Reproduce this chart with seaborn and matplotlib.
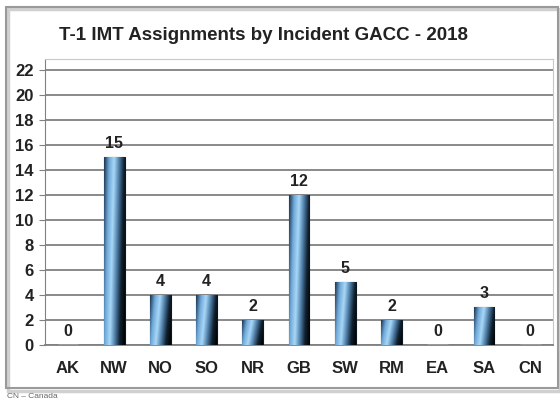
import numpy as np
import pandas as pd
import matplotlib
matplotlib.use("Agg")
import matplotlib.pyplot as plt
import seaborn as sns
from matplotlib.patches import Rectangle
from matplotlib.colors import LinearSegmentedColormap

# ---------- Data ----------
regions = ["AK", "NW", "NO", "SO", "NR", "GB", "SW", "RM", "EA", "SA", "CN"]
assignments = [0, 15, 4, 4, 2, 12, 5, 2, 0, 3, 0]
y_ticks = list(range(0, 23, 2))

df = pd.DataFrame({"region": regions, "count": assignments})

# ---------- Plot ----------
sns.set_style("white")
plt.rcParams["font.family"] = ["Liberation Sans", "DejaVu Sans"]

fig = plt.figure(figsize=(5.6, 4.0), dpi=100)
ax = fig.add_axes([0.08, 0.138, 0.908, 0.715])

sns.barplot(data=df, x="region", y="count", color="#3a6a90", width=0.45,
            ax=ax, zorder=3)

ax.set_yticks(y_ticks)
ax.yaxis.grid(True, color="#808080", linewidth=1.3, zorder=0)
ax.set_axisbelow(True)

# shaded bar fill: dark edges, light blue diagonal highlight
cmap = LinearSegmentedColormap.from_list(
    "bar", ["#1c3550", "#6fa8d8", "#a8d8f8", "#4f7ea8", "#10202e", "#000000"])
xx, yy = np.meshgrid(np.linspace(0, 1, 60), np.linspace(0, 1, 60))
grad = np.clip(xx * 0.82 + (1 - yy) * 0.18, 0, 1)
for patch in ax.patches:
    x0, y0 = patch.get_x(), patch.get_y()
    w, h = patch.get_width(), patch.get_height()
    if h <= 0:
        continue
    im = ax.imshow(grad, cmap=cmap, aspect="auto", origin="lower",
                   extent=[x0, x0 + w, y0, y0 + h], zorder=3.5)
    im.set_clip_path(patch)
    patch.set_edgecolor("#0a1620")
    patch.set_linewidth(0.8)

ax.set_xlim(-0.5, len(regions) - 0.5)
ax.set_ylim(0, 22.9)

for i, v in enumerate(assignments):
    ax.text(i, v + 0.5, str(v), ha="center", va="bottom", fontsize=11.5,
            fontweight="bold", color="#222222", zorder=5)

ax.set_xlabel("")
ax.set_ylabel("")
fig.text(0.471, 0.912, "T-1 IMT Assignments by Incident GACC - 2018",
         ha="center", va="center", fontsize=13.5, fontweight="bold", color="#222222")
for lab in ax.get_xticklabels() + ax.get_yticklabels():
    lab.set_fontweight("bold")
    lab.set_fontsize(12)
    lab.set_color("#222222")

ax.set_xticks(np.arange(-0.5, len(regions), 1), minor=True)
ax.tick_params(axis="x", which="major", length=0, pad=12)
ax.tick_params(axis="x", which="minor", length=4, color="#808080", direction="out")
ax.tick_params(axis="y", length=4, color="#808080", direction="out", left=True, pad=4)

for side in ["top", "right"]:
    ax.spines[side].set_color("#c8c8c8")
    ax.spines[side].set_linewidth(0.8)
ax.spines["left"].set_color("#808080")
ax.spines["bottom"].set_color("#808080")
ax.spines["bottom"].set_linewidth(1.3)

# outer frame with a light shadow
fig.patches.append(Rectangle((0.015, 0.022), 0.985, 0.955, transform=fig.transFigure,
                             fill=False, edgecolor="#d0d0d0", linewidth=2.5))
fig.patches.append(Rectangle((0.011, 0.03), 0.985, 0.952, transform=fig.transFigure,
                             fill=False, edgecolor="#9a9a9a", linewidth=1.5))
fig.text(0.012, 0.004, "CN \u2013 Canada", fontsize=6, color="#666666")

fig.savefig("out.png", dpi=100)
